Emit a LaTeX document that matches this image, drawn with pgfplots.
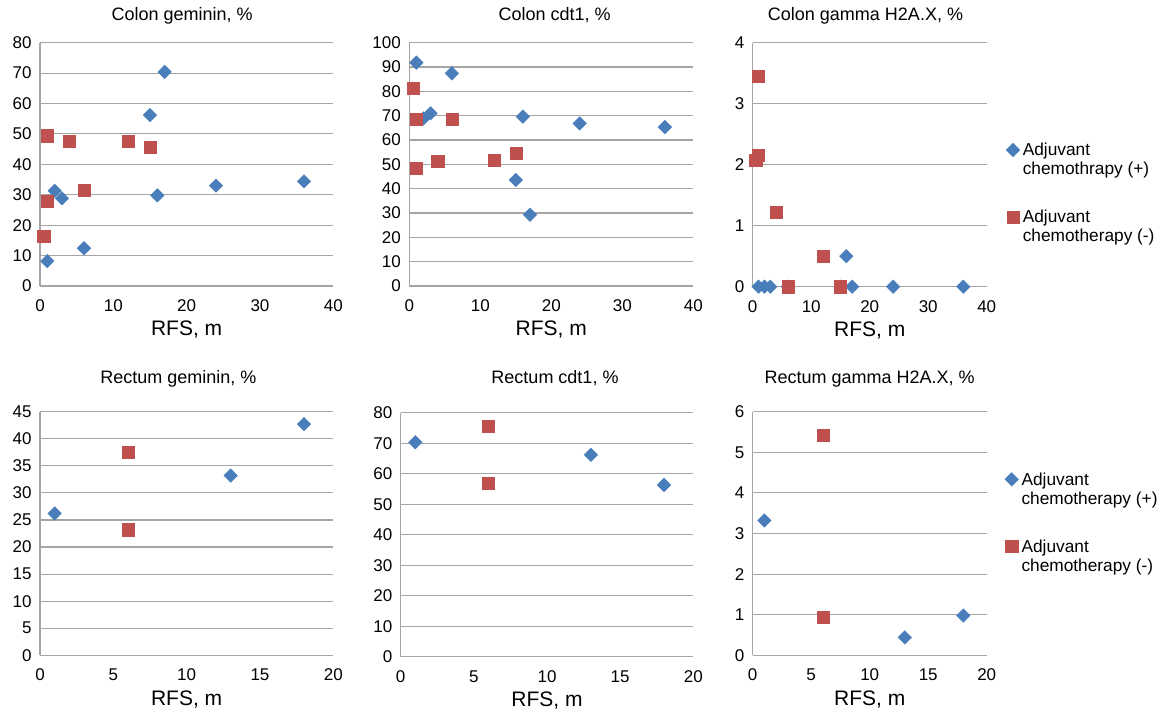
\documentclass[border=0pt]{standalone}
\usepackage{fontspec}
\setmainfont{Liberation Sans}
\usepackage{pgfplots}
\pgfplotsset{compat=1.18}
\definecolor{xlblue}{RGB}{74,126,187}
\definecolor{xlred}{RGB}{192,80,77}
\definecolor{xlgrid}{RGB}{165,165,165}
\pgfplotsset{
  panel/.style={
    scale only axis,
    axis x line*=bottom, axis y line*=left,
    axis line style={draw=xlgrid, line width=1.1bp, -},
    ymajorgrids, grid style={draw=xlgrid, line width=1.1bp},
    major tick length=0pt,
    clip=false,
    xmin=0, ymin=0,
    /pgf/number format/assume math mode=true,
    tick label style={font=\fontsize{17bp}{19bp}\selectfont, text=black},
    yticklabel style={anchor=east, inner sep=0pt, xshift=-8.3bp},
    xticklabel style={anchor=base, inner sep=0pt, yshift=-25.7bp},
    title style={at={(0.5,1)}, anchor=base, font=\fontsize{18bp}{20bp}\selectfont},
    xlabel={RFS, m},
    xlabel style={at={(0.5,0)}, anchor=base, yshift=-50bp, font=\fontsize{21bp}{24bp}\selectfont},
  },
  pos/.style={only marks, color=xlblue, mark=square*, mark size=4.8bp, mark options={rotate=45, solid, line width=0.4bp, draw=xlblue, fill=xlblue}},
  neg/.style={only marks, color=xlred, mark=square*, mark size=6.1bp, mark options={solid, line width=0.4bp, draw=xlred, fill=xlred}},
  legstyle/.style={
    legend cell align=left,
    legend style={draw=none, fill=none, inner sep=0pt, at={(#1)}, anchor=north west,
      font=\fontsize{17.3bp}{19bp}\selectfont, row sep=34bp, column sep=3bp,
      nodes={align=left, inner sep=0pt}, cells={anchor=base west}},
    legend image code/.code={\draw[##1] plot coordinates {(0bp,25bp)};},
  },
}
\begin{document}
\begin{tikzpicture}[x=1bp,y=1bp]
\useasboundingbox (0,0) rectangle (1164,714);

% Panel 1: Colon geminin
\begin{axis}[panel, at={(40bp,428bp)}, anchor=south west, width=293.3bp, height=243.3bp,
  xmax=40, ymax=80, xtick={0,10,...,40}, ytick={0,10,...,80},
  title={Colon geminin, \%}, title style={yshift=16.7bp, xshift=-4.5bp}]
\addplot[pos] coordinates {(1,8.2) (2,31.3) (3,28.8) (6,12.4) (15,56.2) (16,29.8) (17,70.4) (24,33.0) (36,34.4)};
\addplot[neg] coordinates {(0.5,16.5) (1,27.9) (1,49.4) (4,47.5) (6,31.6) (12,47.5) (15,45.6)};
\end{axis}

% Panel 2: Colon cdt1
\begin{axis}[panel, at={(409.3bp,428bp)}, anchor=south west, width=284bp, height=243.3bp,
  xmax=40, ymax=100, xtick={0,10,...,40}, ytick={0,10,...,100},
  title={Colon cdt1, \%}, title style={yshift=16.7bp, xshift=3.4bp}]
\addplot[pos] coordinates {(1,91.8) (2,68.9) (3,71.0) (6,87.4) (15,43.6) (16,69.6) (17,29.3) (24,66.8) (36,65.3)};
\addplot[neg] coordinates {(0.5,81.4) (1,68.5) (1,48.4) (4,51.2) (6,68.5) (12,51.8) (15,54.5)};
\end{axis}

% Panel 3: Colon gamma H2A.X
\begin{axis}[panel, at={(752.7bp,427.3bp)}, anchor=south west, width=234bp, height=244bp,
  xmax=40, ymax=4, xtick={0,10,...,40}, ytick={0,1,...,4},
  title={Colon gamma H2A.X, \%}, title style={yshift=16.7bp, xshift=-4.2bp},
  legstyle={1.0825,0.589}]
\addplot[pos] coordinates {(1,0) (2,0) (3,0) (6,0) (15,0) (16,0.5) (17,0) (24,0) (36,0)};
\addlegendentry{Adjuvant\\chemothrapy (+)}
\addplot[neg] coordinates {(0.5,2.08) (1,3.45) (1,2.16) (4,1.22) (6,0) (12,0.5) (15,0)};
\addlegendentry{Adjuvant\\chemotherapy (-)}
\end{axis}

% Panel 4: Rectum geminin
\begin{axis}[panel, at={(40bp,58.7bp)}, anchor=south west, width=293.3bp, height=243.6bp,
  xmax=20, ymax=45, xtick={0,5,...,20}, ytick={0,5,...,45},
  title={Rectum geminin, \%}, title style={yshift=22.4bp, xshift=-8.3bp}]
\addplot[pos] coordinates {(1,26.2) (13,33.2) (18,42.7)};
\addplot[neg] coordinates {(6,37.5) (6,23.2)};
\end{axis}

% Panel 5: Rectum cdt1
\begin{axis}[panel, at={(400.7bp,57.3bp)}, anchor=south west, width=292.6bp, height=244bp,
  xmax=20, ymax=80, xtick={0,5,...,20}, ytick={0,10,...,80},
  title={Rectum cdt1, \%}, title style={yshift=23.4bp, xshift=8bp}]
\addplot[pos] coordinates {(1,70.3) (13,66.2) (18,56.3)};
\addplot[neg] coordinates {(6,75.6) (6,56.9)};
\end{axis}

% Panel 6: Rectum gamma H2A.X
\begin{axis}[panel, at={(752.7bp,58.7bp)}, anchor=south west, width=234bp, height=243.6bp,
  xmax=20, ymax=6, xtick={0,5,...,20}, ytick={0,1,...,6},
  title={Rectum gamma H2A.X, \%}, title style={yshift=22.4bp},
  legstyle={1.077,0.751}]
\addplot[pos] coordinates {(1,3.32) (13,0.44) (18,0.98)};
\addlegendentry{Adjuvant\\chemotherapy (+)}
\addplot[neg] coordinates {(6,5.42) (6,0.94)};
\addlegendentry{Adjuvant\\chemotherapy (-)}
\end{axis}
\end{tikzpicture}
\end{document}
